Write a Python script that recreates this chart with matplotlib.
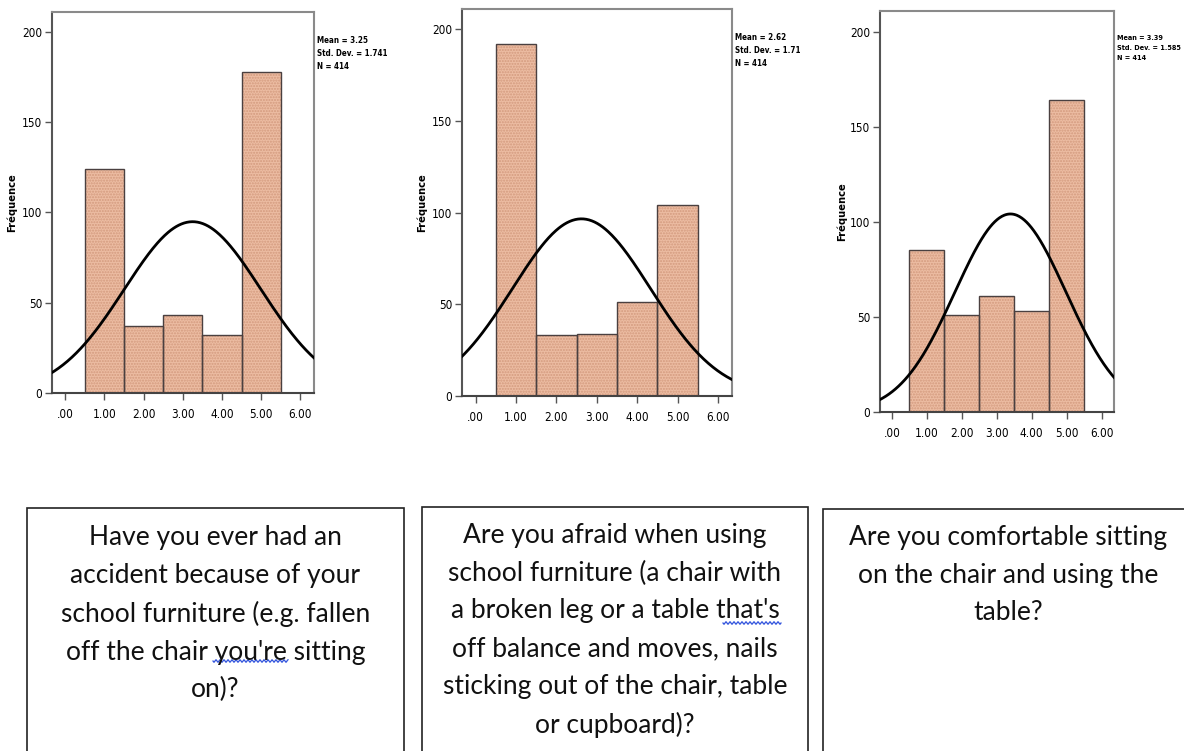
import numpy as np
import matplotlib.pyplot as plt
from matplotlib.patches import Rectangle
from matplotlib.lines import Line2D

# response codes 1..5 and how many pupils picked each one (N = 414)
codes = [1, 2, 3, 4, 5]
counts_accident = [124, 37, 43, 32, 178]
counts_afraid = [192, 33, 34, 51, 104]
counts_comfort = [85, 51, 61, 53, 164]

means = [3.25, 2.62, 3.39]
std_devs = [1.741, 1.71, 1.585]
n_total = [414, 414, 414]
stat_labels = ["1.741", "1.71", "1.585"]

x_ticks = [0, 1, 2, 3, 4, 5, 6]
x_tick_labels = [".00", "1.00", "2.00", "3.00", "4.00", "5.00", "6.00"]
y_ticks = [0, 50, 100, 150, 200]

questions = [
    "Have you ever had an\naccident because of your\nschool furniture (e.g. fallen\n"
    "off the chair you're sitting\non)?",
    "Are you afraid when using\nschool furniture (a chair with\na broken leg or a table that's\n"
    "off balance and moves, nails\nsticking out of the chair, table\nor cupboard)?",
    "Are you comfortable sitting\non the chair and using the\ntable?",
]

W, H = 1184, 751
fig = plt.figure(figsize=(W / 100, H / 100), dpi=100)

narrow = ["DejaVu Sans"]

# axes boxes in pixels: left, top, right, bottom
boxes = [(52, 12, 314, 393), (462, 9, 732, 396), (880, 11, 1114, 412)]
ylabel_x = [-0.135, -0.13, -0.14]
stats_size = [5.8, 5.8, 5.2]
stats_spacing = [1.6, 1.6, 1.8]
all_counts = [counts_accident, counts_afraid, counts_comfort]

for i, (l, t, r, b) in enumerate(boxes):
    ax = fig.add_axes([l / W, (H - b) / H, (r - l) / W, (b - t) / H])
    counts = all_counts[i]

    # dotted fill first, then plain outlines on top
    ax.bar(codes, counts, width=1.0, color="#ecbca2", edgecolor="#d39a7e",
           hatch="......", linewidth=0, zorder=2)
    ax.bar(codes, counts, width=1.0, color="none", edgecolor="#4a4040",
           linewidth=1.0, zorder=3)

    xs = np.linspace(-0.4, 6.4, 300)
    ys = n_total[i] / (std_devs[i] * np.sqrt(2 * np.pi)) * \
        np.exp(-0.5 * ((xs - means[i]) / std_devs[i]) ** 2)
    ax.plot(xs, ys, color="black", lw=2.0, zorder=4)

    ax.set_xlim(-0.34, 6.35)
    ax.set_ylim(0, 211)
    ax.set_xticks(x_ticks)
    ax.set_xticklabels(x_tick_labels)
    ax.set_yticks(y_ticks)
    ax.tick_params(axis="both", direction="out", length=5, width=1,
                   color="#555555", labelsize=8.5, pad=2)
    ax.tick_params(axis="x", pad=6)
    for lab in ax.get_xticklabels() + ax.get_yticklabels():
        lab.set_family(narrow)
        lab.set_stretch("condensed")
    for s in ax.spines.values():
        s.set_color("#8a8a8a")
        s.set_linewidth(1.5)
    ax.spines["left"].set_color("#555555")
    ax.spines["bottom"].set_color("#444444")

    ax.set_ylabel("Fréquence", fontsize=7.2, fontweight="bold", family=narrow)
    ax.yaxis.set_label_coords(ylabel_x[i], 0.5)

    ax.annotate("Mean = %.2f\nStd. Dev. = %s\nN = %d" % (means[i], stat_labels[i], n_total[i]),
                xy=(1, 1), xycoords="axes fraction", xytext=(3, -24),
                textcoords="offset pixels", ha="left", va="top",
                fontsize=stats_size[i], fontweight="bold", family=narrow,
                stretch="condensed", linespacing=stats_spacing[i],
                annotation_clip=False)

# question boxes under each histogram
q_boxes = [(27, 508, 404), (422, 507, 808), (823, 509, 1200)]
first_line = [537, 535, 537]
for (l, t, r), q, y0 in zip(q_boxes, questions, first_line):
    fig.patches.append(Rectangle((l / W, -0.1), (r - l) / W, (H - t) / H + 0.1,
                                 transform=fig.transFigure, fill=False,
                                 edgecolor="#222222", linewidth=1.2))
    cx = (l + r) / 2 if r <= W else (l + 1194) / 2
    fig.text(cx / W, (H - y0 + 12) / H, q, ha="center", va="top",
             fontsize=19, family=["Lato", "DejaVu Sans"], color="#111111",
             linespacing=1.63)

# spell-check squiggles under "you're" and "that's"
for x0, x1, y in [(213, 288, 661), (723, 781, 623)]:
    sx = np.linspace(x0, x1, int((x1 - x0) * 2))
    sy = y + 1.2 * np.sin((sx - x0) * 2 * np.pi / 4.0)
    fig.lines.append(Line2D(sx / W, (H - sy) / H, transform=fig.transFigure,
                            color="#3355dd", lw=0.9))

fig.savefig("out.png", dpi=100)
